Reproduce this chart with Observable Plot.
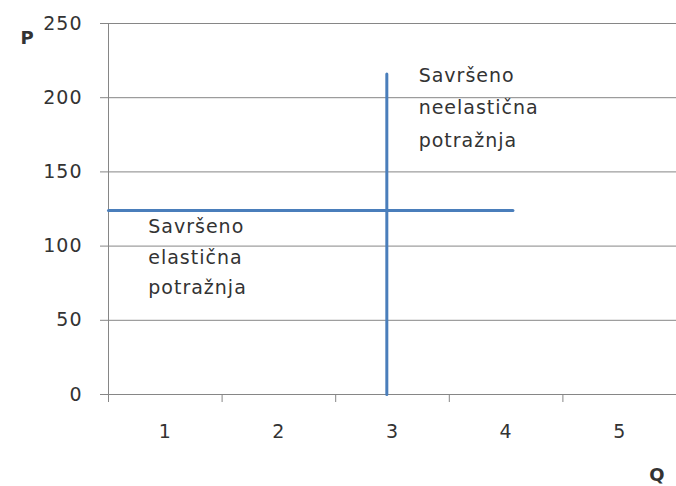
<!DOCTYPE html>
<html>
<head>
<meta charset="utf-8">
<script src="https://cdn.jsdelivr.net/npm/d3@7"></script>
<script src="https://cdn.jsdelivr.net/npm/@observablehq/plot@0.6"></script>
<style>
  html, body { margin: 0; padding: 0; background: #fff; }
</style>
</head>
<body>
<div id="chart"></div>
<script>
// Categories on the Q axis
const qCategories = [1, 2, 3, 4, 5];
const qBoundaries = [0.5, 1.5, 2.5, 3.5, 4.5, 5.5];
// P axis ticks
const pTicks = [0, 50, 100, 150, 200, 250];

// Perfectly elastic demand (horizontal line)
const elasticQ = [0.5, 4.06];
const elasticP = [124, 124];
// Perfectly inelastic demand (vertical line)
const inelasticQ = [2.95, 2.95];
const inelasticP = [0, 216];

// Annotations
const labelTexts = ["Savršeno\nneelastična\npotražnja", "Savršeno\nelastična\npotražnja"];
const labelQ = [3.23, 0.85];
const labelP = [226, 123.2];
const labelLineHeight = [1.7, 1.6];

const elastic = elasticQ.map((q, i) => ({q, p: elasticP[i]}));
const inelastic = inelasticQ.map((q, i) => ({q, p: inelasticP[i]}));

const lineColor = "#4a7ebb";
const gridColor = "#868686";
const textColor = "#333";

const chart = Plot.plot({
  width: 676,
  height: 486,
  marginLeft: 108,
  marginRight: 0,
  marginTop: 23,
  marginBottom: 92,
  style: {fontFamily: "DejaVu Sans, sans-serif", fontSize: "19px", letterSpacing: "1px", background: "#fff"},
  x: {domain: [0.5, 5.5]},
  y: {domain: [0, 250]},
  marks: [
    Plot.gridY(pTicks, {stroke: gridColor, strokeOpacity: 1}),
    Plot.ruleX([0.5], {stroke: gridColor, y1: 0, y2: 250}),
    Plot.axisY(pTicks, {tickSize: 8, tickPadding: 18, stroke: gridColor, fill: textColor, label: null}),
    Plot.axisX(qBoundaries, {tickSize: 8, tickFormat: () => "", stroke: gridColor, label: null}),
    Plot.axisX(qCategories, {tickSize: 0, tickPadding: 30, tickFormat: d => String(d), fill: textColor, label: null}),
    Plot.line(elastic, {x: "q", y: "p", stroke: lineColor, strokeWidth: 3}),
    Plot.line(inelastic, {x: "q", y: "p", stroke: lineColor, strokeWidth: 3}),
    Plot.text([labelTexts[0]], {x: [labelQ[0]], y: [labelP[0]], text: d => d, textAnchor: "start", lineAnchor: "top", lineHeight: labelLineHeight[0], fill: textColor}),
    Plot.text([labelTexts[1]], {x: [labelQ[1]], y: [labelP[1]], text: d => d, textAnchor: "start", lineAnchor: "top", lineHeight: labelLineHeight[1], fill: textColor}),
    Plot.text(["P"], {frameAnchor: "top-left", dx: -88, dy: 15, fontWeight: "bold", fontSize: 18, fill: textColor, lineAnchor: "middle"}),
    Plot.text(["Q"], {frameAnchor: "bottom-right", dx: -11, dy: 81, fontWeight: "bold", fontSize: 18, fill: textColor, lineAnchor: "middle"})
  ]
});
document.getElementById("chart").appendChild(chart);
</script>
</body>
</html>
